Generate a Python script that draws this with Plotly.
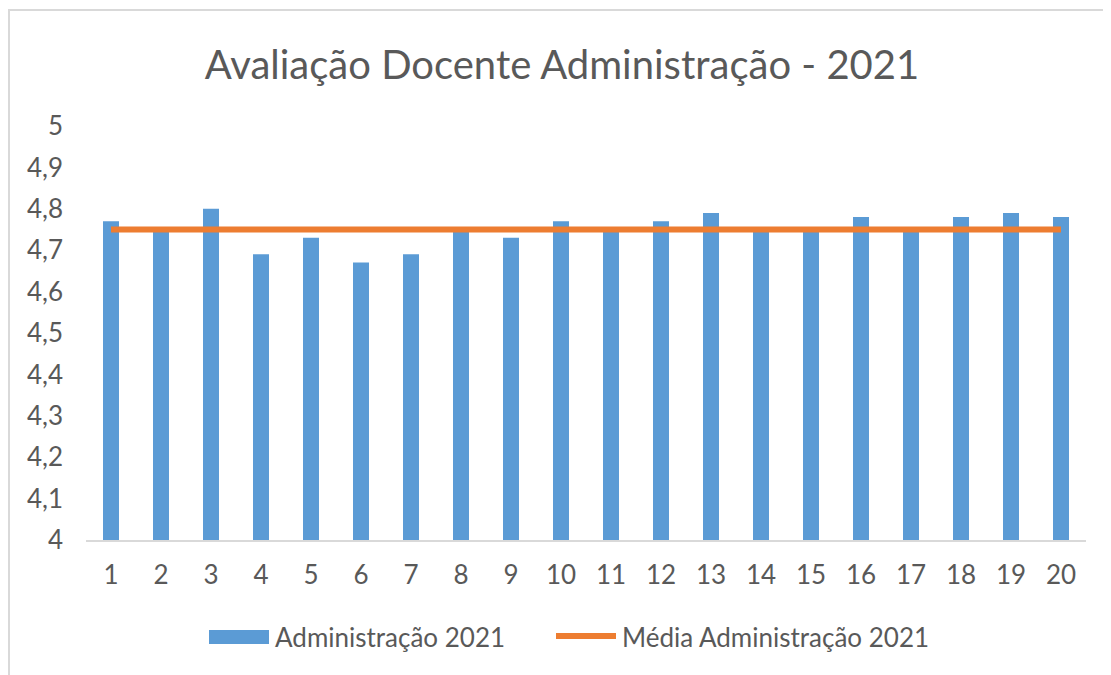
import plotly.graph_objects as go

categories = [str(i) for i in range(1, 21)]
values = [4.77, 4.75, 4.80, 4.69, 4.73, 4.67, 4.69, 4.75, 4.73, 4.77,
          4.75, 4.77, 4.79, 4.75, 4.75, 4.78, 4.75, 4.78, 4.79, 4.78]
media = [4.75] * 20
y_ticks = [4.0, 4.1, 4.2, 4.3, 4.4, 4.5, 4.6, 4.7, 4.8, 4.9, 5.0]
y_labels = ["4", "4,1", "4,2", "4,3", "4,4", "4,5", "4,6", "4,7", "4,8", "4,9", "5"]
bar_name = "Administração 2021"
line_name = "Média Administração 2021"
title_text = "Avaliação Docente Administração - 2021"

font_family = "Lato, Open Sans, sans-serif"
grey = "#595959"
blue = "#5B9BD5"
orange = "#ED7D31"

fig = go.Figure()
fig.add_trace(go.Bar(x=categories, y=[v - 4 for v in values], base=4,
                     name=bar_name, marker_color=blue,
                     marker_line_width=0, showlegend=False))
fig.add_trace(go.Scatter(x=categories, y=media, mode="lines",
                         name=line_name, showlegend=False,
                         line=dict(color=orange, width=6)))

# page body has an 8px margin; target screen plot area x 86..1086, y 126..540
S = 8
L, T = 86 - S, 126 - S
PW, PH = 1000, 414
R = 1111 - L - PW
B = 675 - T - PH


def px(x):
    return (x - S - L) / PW


def py(y):
    return (T + PH - (y - S)) / PH


fig.update_layout(
    width=1111, height=675,
    paper_bgcolor="white", plot_bgcolor="white",
    margin=dict(l=L, r=R, t=T, b=B, autoexpand=False),
    bargap=0.68,
    showlegend=False,
    font=dict(family=font_family, color=grey, size=26),
    title=dict(text=title_text, x=(562 - S) / 1111, xanchor="center",
               y=1 - (65 - S) / 675, yanchor="middle",
               font=dict(size=40, color=grey, family=font_family)),
    xaxis=dict(showgrid=False, showline=True, linecolor="#d9d9d9", linewidth=2,
               ticks="", automargin=False,
               tickfont=dict(size=26, color=grey), ticklabelstandoff=11),
    yaxis=dict(range=[4, 5], tickvals=y_ticks, ticktext=y_labels, showgrid=False,
               zeroline=False, showline=False, ticks="", automargin=False,
               tickfont=dict(size=26, color=grey), ticklabelstandoff=22),
    shapes=[
        dict(type="rect", xref="paper", yref="paper",
             x0=px(9), x1=px(1130), y0=py(700), y1=py(10),
             line=dict(color="#d9d9d9", width=2), fillcolor="rgba(0,0,0,0)",
             layer="below"),
        dict(type="rect", xref="paper", yref="paper",
             x0=px(209), x1=px(269), y0=py(644), y1=py(630),
             line=dict(width=0), fillcolor=blue),
        dict(type="line", xref="paper", yref="paper",
             x0=px(556), x1=px(616), y0=py(636), y1=py(636),
             line=dict(color=orange, width=6)),
    ],
    annotations=[
        dict(text=bar_name, xref="paper", yref="paper", x=px(273), y=py(637),
             xanchor="left", yanchor="middle", showarrow=False,
             font=dict(size=26, color=grey, family=font_family)),
        dict(text=line_name, xref="paper", yref="paper", x=px(620), y=py(637),
             xanchor="left", yanchor="middle", showarrow=False,
             font=dict(size=26, color=grey, family=font_family)),
    ],
)

fig.write_html("out.html")
